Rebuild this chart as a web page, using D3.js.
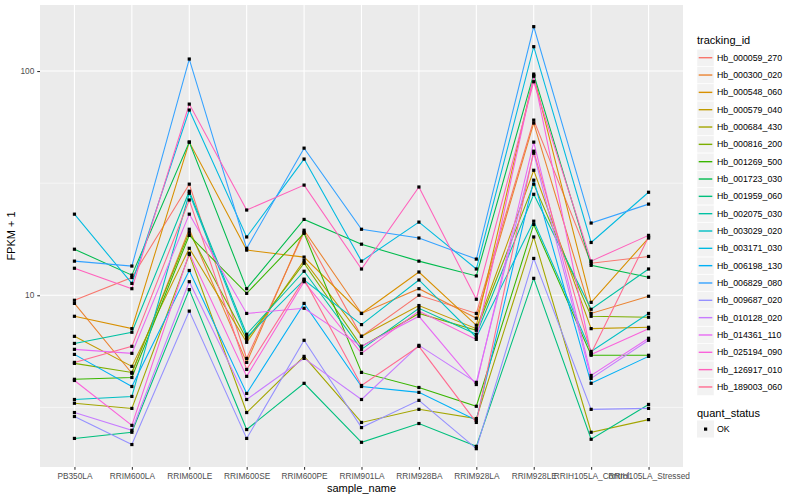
<!DOCTYPE html>
<html><head><meta charset="utf-8">
<script src="https://cdn.jsdelivr.net/npm/d3@7"></script>
<style>body{margin:0;background:#fff}svg{display:block;font-family:"Liberation Sans",Arial,sans-serif}</style>
</head><body><svg id="c" width="800" height="500"></svg>
<script>
const categories = ["PB350LA","RRIM600LA","RRIM600LE","RRIM600SE","RRIM600PE","RRIM901LA","RRIM928BA","RRIM928LA","RRIM928LE","RRIH105LA_Control","RRIH105LA_Stressed"];
const trackingIds = ["Hb_000059_270","Hb_000300_020","Hb_000548_060","Hb_000579_040","Hb_000684_430","Hb_000816_200","Hb_001269_500","Hb_001723_030","Hb_001959_060","Hb_002075_030","Hb_003029_020","Hb_003171_030","Hb_006198_130","Hb_006829_080","Hb_009687_020","Hb_010128_020","Hb_014361_110","Hb_025194_090","Hb_126917_010","Hb_189003_060"];
const yTickValues = [10, 100];
const quantStatus = ["OK"];

const Hb_000059_270 = [9.5, 12.0, 31.3, 5.23, 19.1, 6.56, 10.0, 8.3, 60.4, 13.9, 14.9];
const Hb_000300_020 = [9.2, 4.49, 19.7, 5.02, 19.5, 8.3, 10.7, 7.9, 58.6, 8.3, 9.9];
const Hb_000548_060 = [8.06, 7.1, 48.2, 15.9, 14.8, 8.3, 12.7, 7.35, 95.0, 9.3, 18.0];
const Hb_000579_040 = [6.56, 4.82, 16.2, 6.17, 14.3, 6.56, 9.0, 7.1, 36.1, 7.1, 7.2];
const Hb_000684_430 = [3.3, 3.13, 15.2, 3.0, 5.34, 2.71, 3.1, 2.82, 18.2, 2.45, 2.79];
const Hb_000816_200 = [4.97, 4.53, 19.1, 6.36, 13.9, 5.92, 8.3, 6.98, 31.3, 8.06, 7.98];
const Hb_001269_500 = [4.22, 4.3, 18.5, 10.2, 18.9, 4.53, 3.88, 3.2, 20.7, 5.4, 5.4];
const Hb_001723_030 = [16.05, 12.3, 48.2, 10.7, 21.8, 16.9, 14.2, 12.2, 96.9, 13.6, 12.03];
const Hb_001959_060 = [2.3, 2.45, 10.6, 2.52, 4.05, 2.21, 2.68, 2.12, 11.9, 2.28, 3.26];
const Hb_002075_030 = [6.1, 6.84, 29.1, 6.7, 12.8, 5.74, 8.75, 6.7, 28.2, 8.66, 13.1];
const Hb_003029_020 = [3.43, 3.54, 28.5, 6.5, 11.7, 7.4, 11.7, 6.5, 21.4, 5.62, 8.3];
const Hb_003171_030 = [23.0, 11.3, 67.0, 18.2, 40.5, 14.2, 21.2, 13.1, 128.4, 17.2, 28.8];
const Hb_006198_130 = [5.45, 3.92, 12.9, 3.65, 9.2, 3.92, 3.69, 2.77, 32.6, 4.05, 5.34];
const Hb_006829_080 = [14.2, 13.5, 113.1, 16.2, 45.3, 19.7, 18.0, 14.5, 157.7, 21.0, 25.5];
const Hb_009687_020 = [2.88, 2.16, 8.5, 2.3, 6.3, 2.57, 3.4, 2.07, 14.6, 3.1, 3.13];
const Hb_010128_020 = [3.0, 2.5, 11.5, 3.43, 5.23, 3.43, 5.98, 4.09, 43.0, 4.26, 6.3];
const Hb_014361_110 = [5.74, 5.51, 23.0, 8.3, 8.75, 5.92, 8.06, 4.0, 48.2, 4.39, 6.43];
const Hb_025194_090 = [4.17, 2.63, 15.4, 4.35, 11.5, 5.51, 8.5, 6.36, 95.0, 5.45, 7.1];
const Hb_126917_010 = [13.2, 10.7, 71.2, 24.0, 31.0, 13.1, 30.4, 9.6, 89.6, 14.2, 18.5];
const Hb_189003_060 = [5.02, 5.92, 26.6, 4.67, 11.8, 3.96, 5.92, 2.71, 43.9, 5.51, 18.2];

const seriesValues = [Hb_000059_270,Hb_000300_020,Hb_000548_060,Hb_000579_040,Hb_000684_430,Hb_000816_200,Hb_001269_500,Hb_001723_030,Hb_001959_060,Hb_002075_030,Hb_003029_020,Hb_003171_030,Hb_006198_130,Hb_006829_080,Hb_009687_020,Hb_010128_020,Hb_014361_110,Hb_025194_090,Hb_126917_010,Hb_189003_060];

const palette = ["#F8766D","#EA8331","#D89000","#C09B00","#A3A500","#7CAE00","#39B600","#00BB4E","#00BF7D","#00C1A3","#00BFC4","#00BAE0","#00B0F6","#35A2FF","#9590FF","#C77CFF","#E76BF3","#FA62DB","#FF62BC","#FF6C91"];

const svg = d3.select("#c");
const P = {l:40, r:683, t:5, b:467};
const x = d3.scalePoint().domain(categories).range([P.l, P.r]).padding(0.6);
const y = d3.scaleLog().domain([1.715, 197]).range([P.b, P.t]);
const color = d3.scaleOrdinal().domain(trackingIds).range(palette);

svg.append("rect").attr("x",P.l).attr("y",P.t).attr("width",P.r-P.l).attr("height",P.b-P.t).attr("fill","#EBEBEB");
// minor y grid (midpoints in log space)
const minor = [Math.sqrt(10), Math.sqrt(1000)];
svg.append("g").selectAll("line").data(minor).join("line")
  .attr("x1",P.l).attr("x2",P.r).attr("y1",d=>y(d)).attr("y2",d=>y(d))
  .attr("stroke","#fff").attr("stroke-width",0.55);
svg.append("g").selectAll("line").data(yTickValues).join("line")
  .attr("x1",P.l).attr("x2",P.r).attr("y1",d=>y(d)).attr("y2",d=>y(d))
  .attr("stroke","#fff").attr("stroke-width",1.1);
svg.append("g").selectAll("line").data(categories).join("line")
  .attr("x1",d=>x(d)).attr("x2",d=>x(d)).attr("y1",P.t).attr("y2",P.b)
  .attr("stroke","#fff").attr("stroke-width",1.1);

const line = d3.line().x((d,i)=>x(categories[i])).y(d=>y(d));
const gl = svg.append("g");
seriesValues.forEach((vals,k)=>{
  gl.append("path").datum(vals).attr("d",line).attr("fill","none")
    .attr("stroke",color(trackingIds[k])).attr("stroke-width",1.07);
});
const gp = svg.append("g");
seriesValues.forEach((vals)=>{
  gp.selectAll(null).data(vals).join("rect")
    .attr("x",(d,i)=>x(categories[i])-1.6).attr("y",d=>y(d)-1.6)
    .attr("width",3.2).attr("height",3.2).attr("fill","#000");
});

// axes
const xa = svg.append("g").attr("transform",`translate(0,${P.b})`)
  .call(d3.axisBottom(x).tickSize(2.75).tickPadding(3));
const ya = svg.append("g").attr("transform",`translate(${P.l},0)`)
  .call(d3.axisLeft(y).tickValues(yTickValues).tickFormat(d3.format("d")).tickSize(2.75).tickPadding(3));
[xa,ya].forEach(a=>{
  a.select(".domain").remove();
  a.selectAll(".tick line").attr("stroke","#333").attr("stroke-width",1.07);
  a.selectAll(".tick text").attr("fill","#4D4D4D").style("font-size","8.3px").style("font-family","'Liberation Sans',Arial,sans-serif");
});

svg.append("text").attr("x",(P.l+P.r)/2).attr("y",492).attr("text-anchor","middle")
  .style("font-size","11px").text("sample_name");
svg.append("text").attr("transform",`translate(15,${(P.t+P.b)/2}) rotate(-90)`).attr("text-anchor","middle")
  .style("font-size","11px").text("FPKM + 1");

// legend
const lg = svg.append("g");
lg.append("text").attr("x",697).attr("y",44).style("font-size","11px").text("tracking_id");
const items = lg.selectAll("g.it").data(trackingIds).join("g").attr("class","it")
  .attr("transform",(d,i)=>`translate(697,${49.2+i*17.33})`);
items.append("rect").attr("width",17).attr("height",17).attr("fill","#F2F2F2").attr("stroke","#fff").attr("stroke-width",0.5);
items.append("line").attr("x1",1.7).attr("x2",15.3).attr("y1",8.5).attr("y2",8.5)
  .attr("stroke",d=>color(d)).attr("stroke-width",1.4);
items.append("text").attr("x",20).attr("y",8.5).attr("dy","0.35em").style("font-size","8.8px").text(d=>d);

lg.append("text").attr("x",697).attr("y",416.5).style("font-size","11px").text("quant_status");
const qi = lg.selectAll("g.q").data(quantStatus).join("g").attr("class","q")
  .attr("transform",(d,i)=>`translate(697,${420.5+i*17.33})`);
qi.append("rect").attr("width",17).attr("height",17).attr("fill","#F2F2F2");
qi.append("rect").attr("x",7).attr("y",7).attr("width",3.2).attr("height",3.2).attr("fill","#000");
qi.append("text").attr("x",20).attr("y",8.5).attr("dy","0.35em").style("font-size","8.8px").text(d=>d);
</script></body></html>
